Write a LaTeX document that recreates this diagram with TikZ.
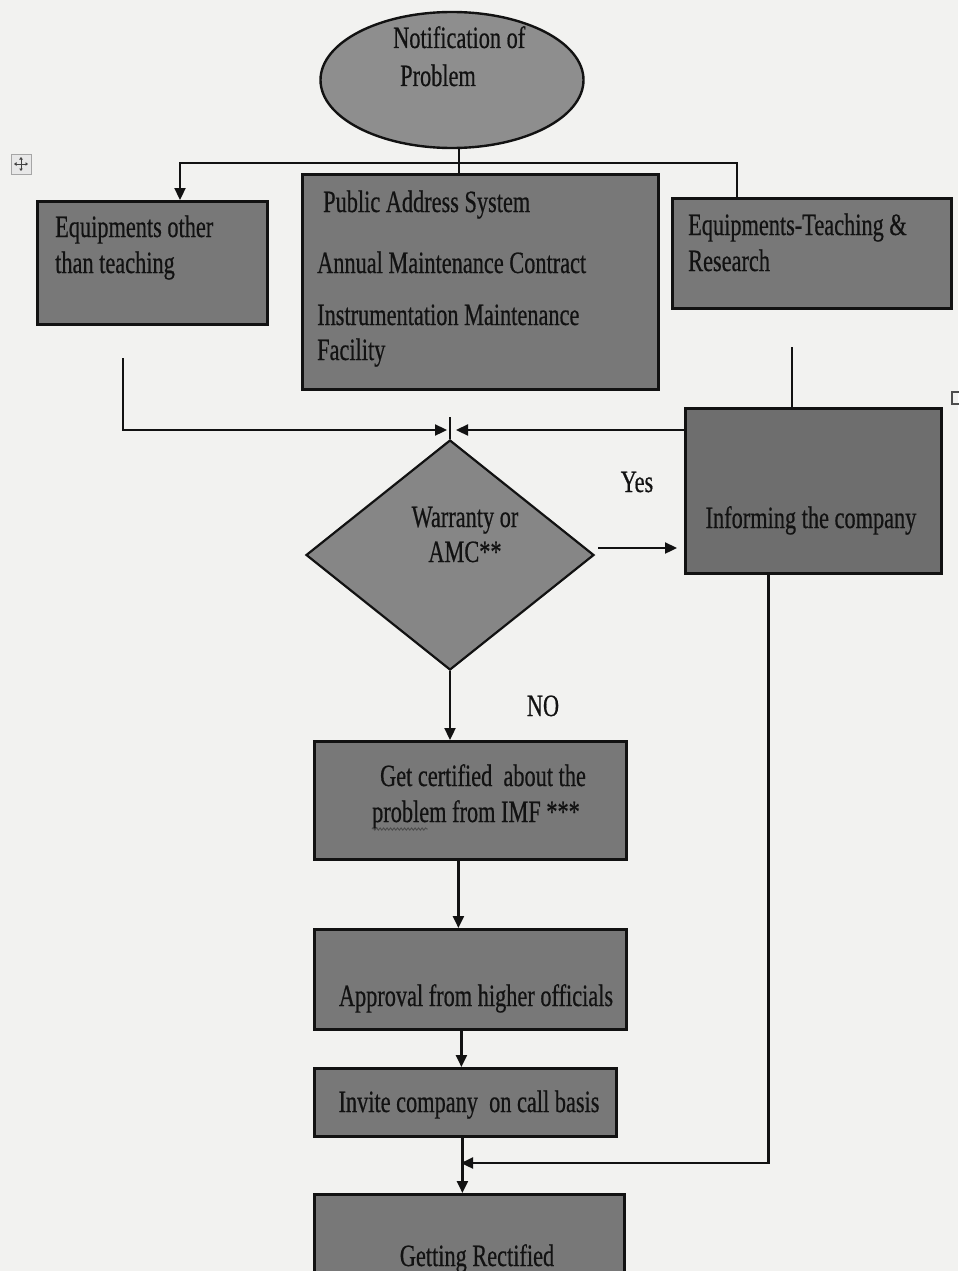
\documentclass[tikz,border=0pt]{standalone}
\usepackage{fontspec}
\setmainfont{Liberation Serif}[FakeStretch=0.72,FakeBold=0.5]
\usetikzlibrary{shapes.geometric,arrows.meta,decorations.pathmorphing}
\definecolor{paper}{HTML}{F2F2F0}
\definecolor{boxgray}{HTML}{787878}
\definecolor{darkgray}{HTML}{6E6E6E}
\definecolor{ovalgray}{HTML}{8E8E8E}
\definecolor{diagray}{HTML}{868686}
\definecolor{ink}{HTML}{121212}
\begin{document}
\begin{tikzpicture}[x=1pt,y=-1pt,
  box/.style={draw=ink, line width=2.8pt, fill=boxgray, rectangle, inner sep=0pt, anchor=north west},
  txt/.style={text=ink, inner sep=0pt, font=\fontsize{31}{36}\selectfont},
  link/.style={draw=ink, line width=2.3pt},
  arr/.style={link, -{Triangle[length=12pt,width=11pt]}},
]
\fill[paper] (0,0) rectangle (958,1271);
\useasboundingbox (0,0) rectangle (958,1271);

% shapes of the flow
\node[ellipse, draw=ink, line width=2.4pt, fill=ovalgray, minimum width=263pt, minimum height=136pt, inner sep=0pt] (notif) at (452,80) {};
\node[box, minimum width=230pt, minimum height=123pt] (other) at (36,200) {};
\node[box, minimum width=356pt, minimum height=215pt] (pas) at (301,173) {};
\node[box, minimum width=279pt, minimum height=110pt] (teach) at (671,197) {};
\node[box, fill=darkgray, minimum width=256pt, minimum height=165pt] (inform) at (684,407) {};
\node[diamond, draw=ink, line width=2.2pt, fill=diagray, minimum width=288pt, minimum height=230pt, inner sep=0pt] (warr) at (450,555) {};
\node[box, minimum width=312pt, minimum height=118pt] (cert) at (313,740) {};
\node[box, minimum width=312pt, minimum height=100pt] (appr) at (313,928) {};
\node[box, minimum width=302pt, minimum height=68pt] (invite) at (313,1067) {};
\node[box, minimum width=310pt, minimum height=110pt] (rect) at (313,1193) {};

% texts
\node[txt, anchor=base west] (tn1) at (393,48) {Notification of};
\node[txt, anchor=base west] (tn2) at (400,86) {Problem};
\node[txt, anchor=base west] (to1) at (55,237) {Equipments other};
\node[txt, anchor=base west] (to2) at (55,273) {than teaching};
\node[txt, anchor=base west] (tp1) at (323,212) {Public Address System};
\node[txt, anchor=base west] (tp2) at (317,273) {Annual Maintenance Contract};
\node[txt, anchor=base west] (tp3) at (317,325) {Instrumentation Maintenance};
\node[txt, anchor=base west] (tp4) at (317,360) {Facility};
\node[txt, anchor=base west] (tt1) at (688,235) {Equipments-Teaching \&};
\node[txt, anchor=base west] (tt2) at (688,271) {Research};
\node[txt, anchor=base] (ti) at (811,528) {Informing the company};
\node[txt, anchor=base] (tw1) at (465,527) {Warranty or};
\node[txt, anchor=base] (tw2) at (465,562) {AMC**};
\node[txt, anchor=base] (tyes) at (637,492) {Yes};
\node[txt, anchor=base] (tno) at (543,716) {NO};
\node[txt, anchor=base] (tc1) at (483,786) {Get certified\ \ about the};
\node[txt, anchor=base] (tc2) at (476,822) {problem from IMF ***};
\node[txt, anchor=base] (ta) at (476,1006) {Approval from higher officials};
\node[txt, anchor=base] (tinv) at (469,1112) {Invite company\ \ on call basis};
\node[txt, anchor=base] (tr) at (477,1266) {Getting Rectified};

% spelling mark under "problem"
\draw[ink!75, line width=0.9pt, decorate, decoration={snake, amplitude=1.1pt, segment length=3.5pt}]
  (tc2.base west) ++(0,7) -- ++(56,0);

% connectors
\coordinate (barL) at (180,163);
\coordinate (barR) at (737,163);
\coordinate (barM) at (459,163);
\draw[link] (notif.south -| barM) -- (barM |- pas.north);
\draw[arr] (barR |- teach.north) -- (barR) -- (barL) -- (barL |- other.north);

\coordinate (feedL) at (123,358);
\coordinate (mergeL) at (447,430);
\coordinate (mergeR) at (456,430);
\coordinate (feedR) at (792,347);
\draw[arr] (feedL) |- (mergeL);
\draw[arr] (inform.west |- mergeR) -- (mergeR);
\draw[link, line width=1.4pt] (warr.north) -- ++(0,-22);
\draw[link] (feedR) -- (feedR |- inform.north);

\draw[arr, shorten >=7pt] ([xshift=3pt,yshift=7pt]warr.east) -- ([yshift=7pt]warr.east -| inform.west);
\draw[arr] (warr.south) -- (warr.south |- cert.north);
\draw[arr] ([xshift=-12pt]cert.south) -- ([xshift=-12pt]appr.north);
\draw[arr] ([xshift=-9pt]appr.south) -- ([xshift=-9pt]appr.south |- invite.north);

\coordinate (join) at (461,1163);
\draw[arr] ([xshift=-3pt]invite.south) -- ([xshift=-3pt]invite.south |- rect.north);
\draw[arr] ([xshift=-45pt]inform.south) |- (join);

% editor handles
\draw[gray!70, fill=gray!18, line width=0.8pt] (11,154) rectangle (31,174);
\draw[ink!80, line width=0.9pt, {Triangle[length=2.5pt,width=3.5pt]}-{Triangle[length=2.5pt,width=3.5pt]}] (14,164) -- (28,164);
\draw[ink!80, line width=0.9pt, {Triangle[length=2.5pt,width=3.5pt]}-{Triangle[length=2.5pt,width=3.5pt]}] (21,157) -- (21,171);
\draw[ink!75, line width=1.2pt] (952,392) rectangle (964,404);
\end{tikzpicture}
\end{document}
